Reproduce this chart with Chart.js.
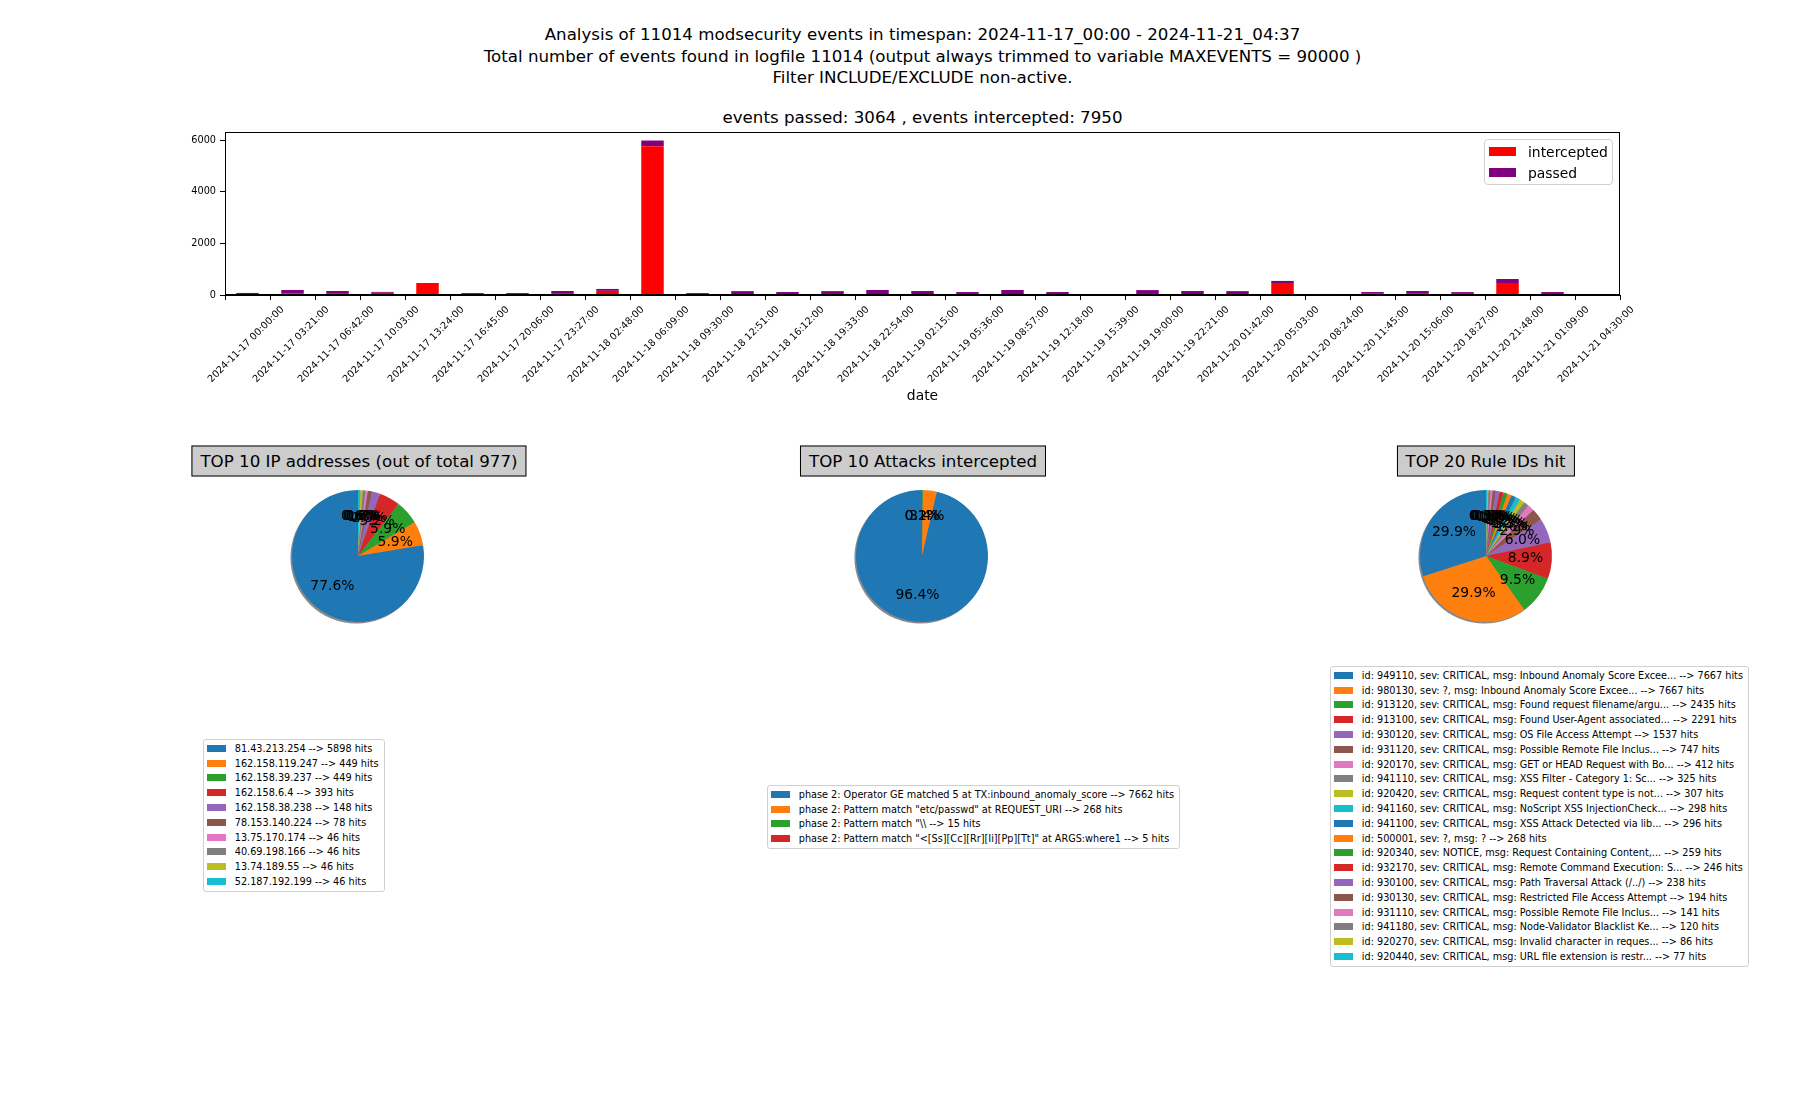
<!DOCTYPE html>
<html>
<head>
<meta charset="utf-8">
<script src="https://cdn.jsdelivr.net/npm/chart.js@4.4.0/dist/chart.umd.min.js"></script>
<style>
  body { margin: 0; background: #fff; font-family: "DejaVu Sans", sans-serif; color: #000; }
  #page { position: relative; width: 1800px; height: 1100px; overflow: hidden; }
  .ctr { position: absolute; transform: translate(-50%, -50%); white-space: nowrap; }
  .ttl { font-size: 16.67px; }
  .box { background: #cccccc; border: 1px solid #000; font-size: 16.67px; padding: 5px 8px; line-height: 19px; }
  .leg { position: absolute; border: 1px solid #d0d0d0; border-radius: 3px; background: rgba(255,255,255,0.8);
         font-size: 9.7px; padding: 1px 5px 2px 3px; white-space: nowrap; }
  .leg .row { height: 14.8px; display: flex; align-items: center; }
  .leg .sw { width: 19.3px; height: 7px; margin-right: 8.5px; flex: none; }
  .wrap { position: absolute; }
</style>
</head>
<body>
<div id="page">
  <div class="ctr ttl" style="left:922.5px;top:34.4px">Analysis of 11014 modsecurity events in timespan: 2024-11-17_00:00 - 2024-11-21_04:37</div>
  <div class="ctr ttl" style="left:922.5px;top:55.6px">Total number of events found in logfile 11014 (output always trimmed to variable MAXEVENTS = 90000 )</div>
  <div class="ctr ttl" style="left:922.5px;top:76.9px">Filter INCLUDE/EXCLUDE non-active.</div>
  <div class="ctr ttl" style="left:922.5px;top:117px">events passed: 3064 , events intercepted: 7950</div>

  <div class="wrap" style="left:165px;top:120px;width:1475px;height:300px"><canvas id="bars" width="1475" height="300"></canvas></div>
  <div id="barLegend" class="leg" style="left:1484px;top:139px;width:119px;height:43px;font-size:13.9px;padding:0 4px;border-radius:4px"></div>

  <div class="ctr box" style="left:359px;top:461px">TOP 10 IP addresses (out of total 977)</div>
  <div class="ctr box" style="left:923px;top:461px">TOP 10 Attacks intercepted</div>
  <div class="ctr box" style="left:1485.5px;top:461px">TOP 20 Rule IDs hit</div>

  <div class="wrap" style="left:258px;top:456px;width:200px;height:200px"><canvas id="pieIp" width="200" height="200"></canvas></div>
  <div class="wrap" style="left:822px;top:456px;width:200px;height:200px"><canvas id="pieAtt" width="200" height="200"></canvas></div>
  <div class="wrap" style="left:1385.5px;top:456px;width:200px;height:200px"><canvas id="pieRule" width="200" height="200"></canvas></div>

  <div id="legIp" class="leg" style="left:203px;top:739px"></div>
  <div id="legAtt" class="leg" style="left:767px;top:785px"></div>
  <div id="legRule" class="leg" style="left:1330px;top:666px"></div>
</div>

<script>
// ── data ────────────────────────────────────────────────────────────
const dateLabels = [
  "2024-11-17 00:00:00", "2024-11-17 03:21:00", "2024-11-17 06:42:00", "2024-11-17 10:03:00",
  "2024-11-17 13:24:00", "2024-11-17 16:45:00", "2024-11-17 20:06:00", "2024-11-17 23:27:00",
  "2024-11-18 02:48:00", "2024-11-18 06:09:00", "2024-11-18 09:30:00", "2024-11-18 12:51:00",
  "2024-11-18 16:12:00", "2024-11-18 19:33:00", "2024-11-18 22:54:00", "2024-11-19 02:15:00",
  "2024-11-19 05:36:00", "2024-11-19 08:57:00", "2024-11-19 12:18:00", "2024-11-19 15:39:00",
  "2024-11-19 19:00:00", "2024-11-19 22:21:00", "2024-11-20 01:42:00", "2024-11-20 05:03:00",
  "2024-11-20 08:24:00", "2024-11-20 11:45:00", "2024-11-20 15:06:00", "2024-11-20 18:27:00",
  "2024-11-20 21:48:00", "2024-11-21 01:09:00", "2024-11-21 04:30:00"
];
const intercepted = [5, 50, 75, 85, 425, 0, 0, 45, 160, 5760, 0, 0, 35, 0, 35, 0,
                     40, 0, 0, 0, 40, 0, 0, 465, 0, 75, 75, 80, 465, 40, 0];
const passed      = [75, 145, 80, 35, 35, 75, 75, 110, 75, 220, 75, 150, 80, 150, 160, 155,
                     75, 195, 115, 35, 150, 155, 150, 80, 40, 40, 80, 35, 155, 75, 0];
const yTicks = [0, 2000, 4000, 6000];

const ipLabels = ["81.43.213.254", "162.158.119.247", "162.158.39.237", "162.158.6.4", "162.158.38.238",
                  "78.153.140.224", "13.75.170.174", "40.69.198.166", "13.74.189.55", "52.187.192.199"];
const ipHits   = [5898, 449, 449, 393, 148, 78, 46, 46, 46, 46];

const attackLabels = [
  "phase 2: Operator GE matched 5 at TX:inbound_anomaly_score",
  "phase 2: Pattern match \"etc/passwd\" at REQUEST_URI",
  "phase 2: Pattern match \"\\\\",
  "phase 2: Pattern match \"<[Ss][Cc][Rr][Ii][Pp][Tt]\" at ARGS:where1"
];
const attackHits = [7662, 268, 15, 5];

const ruleLabels = [
  "id: 949110, sev: CRITICAL, msg: Inbound Anomaly Score Excee...",
  "id: 980130, sev: ?, msg: Inbound Anomaly Score Excee...",
  "id: 913120, sev: CRITICAL, msg: Found request filename/argu...",
  "id: 913100, sev: CRITICAL, msg: Found User-Agent associated...",
  "id: 930120, sev: CRITICAL, msg: OS File Access Attempt",
  "id: 931120, sev: CRITICAL, msg: Possible Remote File Inclus...",
  "id: 920170, sev: CRITICAL, msg: GET or HEAD Request with Bo...",
  "id: 941110, sev: CRITICAL, msg: XSS Filter - Category 1: Sc...",
  "id: 920420, sev: CRITICAL, msg: Request content type is not...",
  "id: 941160, sev: CRITICAL, msg: NoScript XSS InjectionCheck...",
  "id: 941100, sev: CRITICAL, msg: XSS Attack Detected via lib...",
  "id: 500001, sev: ?, msg: ?",
  "id: 920340, sev: NOTICE, msg: Request Containing Content,...",
  "id: 932170, sev: CRITICAL, msg: Remote Command Execution: S...",
  "id: 930100, sev: CRITICAL, msg: Path Traversal Attack (/../)",
  "id: 930130, sev: CRITICAL, msg: Restricted File Access Attempt",
  "id: 931110, sev: CRITICAL, msg: Possible Remote File Inclus...",
  "id: 941180, sev: CRITICAL, msg: Node-Validator Blacklist Ke...",
  "id: 920270, sev: CRITICAL, msg: Invalid character in reques...",
  "id: 920440, sev: CRITICAL, msg: URL file extension is restr..."
];
const ruleHits = [7667, 7667, 2435, 2291, 1537, 747, 412, 325, 307, 298,
                  296, 268, 259, 246, 238, 194, 141, 120, 86, 77];

const tab10 = ["#1f77b4", "#ff7f0e", "#2ca02c", "#d62728", "#9467bd",
               "#8c564b", "#e377c2", "#7f7f7f", "#bcbd22", "#17becf"];
const RED = "#ff0000", PURPLE = "#800080";
const FONT = "DejaVu Sans";

// ── bar chart (stacked) ─────────────────────────────────────────────
const frameBox = {
  id: "frameBox",
  afterDraw(chart) {
    const a = chart.chartArea, ctx = chart.ctx;
    ctx.save();
    ctx.strokeStyle = "#000"; ctx.lineWidth = 1;
    ctx.strokeRect(Math.round(a.left) + 0.5, Math.round(a.top) + 0.5,
                   Math.round(a.right - a.left) - 1, Math.round(a.bottom - a.top) - 1);
    ctx.restore();
  }
};

new Chart(document.getElementById("bars"), {
  type: "bar",
  data: {
    labels: dateLabels,
    datasets: [
      { label: "intercepted", data: intercepted, backgroundColor: RED },
      { label: "passed", data: passed, backgroundColor: PURPLE }
    ]
  },
  options: {
    responsive: false, animation: false,
    layout: { padding: { top: 12, right: 20, left: 0, bottom: 0 } },
    datasets: { bar: { categoryPercentage: 1, barPercentage: 0.5 } },
    plugins: { legend: { display: false }, tooltip: { enabled: false } },
    scales: {
      x: {
        stacked: true,
        grid: { drawOnChartArea: false, drawTicks: true, tickLength: 5, color: "#000" },
        border: { display: true, color: "#000" },
        ticks: { autoSkip: false, minRotation: 45, maxRotation: 45, labelOffset: 35, padding: 4,
                 color: "#000", font: { family: FONT, size: 9.7 } },
        title: { display: true, text: "date", color: "#000",
                 font: { family: FONT, size: 13.9 }, padding: { top: 0, bottom: 15.5 } },
        afterFit(s) { s.height = 125; }
      },
      y: {
        stacked: true, min: 0, max: 6310,
        grid: { drawOnChartArea: false, drawTicks: true, tickLength: 5, color: "#000" },
        border: { display: true, color: "#000" },
        ticks: { padding: 4, color: "#000", font: { family: FONT, size: 9.7 },
                 callback: v => String(v) },
        afterBuildTicks(s) { s.ticks = yTicks.map(v => ({ value: v })); },
        afterFit(s) { s.width = 60; }
      }
    }
  },
  plugins: [frameBox]
});

// ── legend boxes (html) ─────────────────────────────────────────────
function fillLegend(id, texts, colors, opts) {
  const box = document.getElementById(id);
  texts.forEach((t, i) => {
    const row = document.createElement("div");
    row.className = "row";
    const sw = document.createElement("span");
    sw.className = "sw";
    sw.style.background = colors[i % colors.length];
    const tx = document.createElement("span");
    tx.textContent = t;
    row.appendChild(sw); row.appendChild(tx);
    if (opts) {
      row.style.height = opts.rowH + "px";
      sw.style.width = opts.swW + "px"; sw.style.height = opts.swH + "px";
      sw.style.marginRight = opts.gap + "px";
    }
    box.appendChild(row);
  });
}
fillLegend("barLegend", ["intercepted", "passed"], [RED, PURPLE], { rowH: 21, swW: 27, swH: 9.5, gap: 12 });
document.getElementById("barLegend").style.paddingTop = "1px";
fillLegend("legIp", ipLabels.map((l, i) => l + " --> " + ipHits[i] + " hits"), tab10);
fillLegend("legAtt", attackLabels.map((l, i) => l + " --> " + attackHits[i] + " hits"), tab10);
fillLegend("legRule", ruleLabels.map((l, i) => l + " --> " + ruleHits[i] + " hits"), tab10);

// ── pies ────────────────────────────────────────────────────────────
// matplotlib draws counter-clockwise from 90°, chart.js clockwise from top,
// so the slices are fed in reverse order.
const pieShadow = {
  id: "pieShadow",
  beforeDatasetsDraw(chart) {
    const arc = chart.getDatasetMeta(0).data[0];
    if (!arc) return;
    const ctx = chart.ctx;
    ctx.save();
    ctx.fillStyle = "rgba(40,40,40,0.55)";
    ctx.beginPath();
    ctx.arc(arc.x - 1.6, arc.y + 1.6, arc.outerRadius, 0, Math.PI * 2);
    ctx.fill();
    ctx.restore();
  }
};
const pctLabels = {
  id: "pctLabels",
  afterDatasetsDraw(chart) {
    const meta = chart.getDatasetMeta(0);
    const data = chart.data.datasets[0].data;
    const total = data.reduce((a, b) => a + b, 0);
    const ctx = chart.ctx;
    ctx.save();
    ctx.font = "13.9px \"" + FONT + "\"";
    ctx.fillStyle = "#000"; ctx.textAlign = "center"; ctx.textBaseline = "middle";
    for (let i = meta.data.length - 1; i >= 0; i--) {
      const p = meta.data[i];
      const a = (p.startAngle + p.endAngle) / 2;
      const r = 0.6 * p.outerRadius;
      ctx.fillText((data[i] / total * 100).toFixed(1) + "%", p.x + r * Math.cos(a), p.y + r * Math.sin(a));
    }
    ctx.restore();
  }
};

function makePie(canvasId, values) {
  const vals = values.slice().reverse();
  const cols = values.map((v, i) => tab10[i % tab10.length]).reverse();
  return new Chart(document.getElementById(canvasId), {
    type: "pie",
    data: { labels: vals.map(String), datasets: [{ data: vals, backgroundColor: cols, borderWidth: 0 }] },
    options: {
      responsive: false, animation: false, radius: 66, rotation: 0,
      layout: { padding: 0 },
      plugins: { legend: { display: false }, tooltip: { enabled: false } }
    },
    plugins: [pieShadow, pctLabels]
  });
}
makePie("pieIp", ipHits);
makePie("pieAtt", attackHits);
makePie("pieRule", ruleHits);
</script>
</body>
</html>
